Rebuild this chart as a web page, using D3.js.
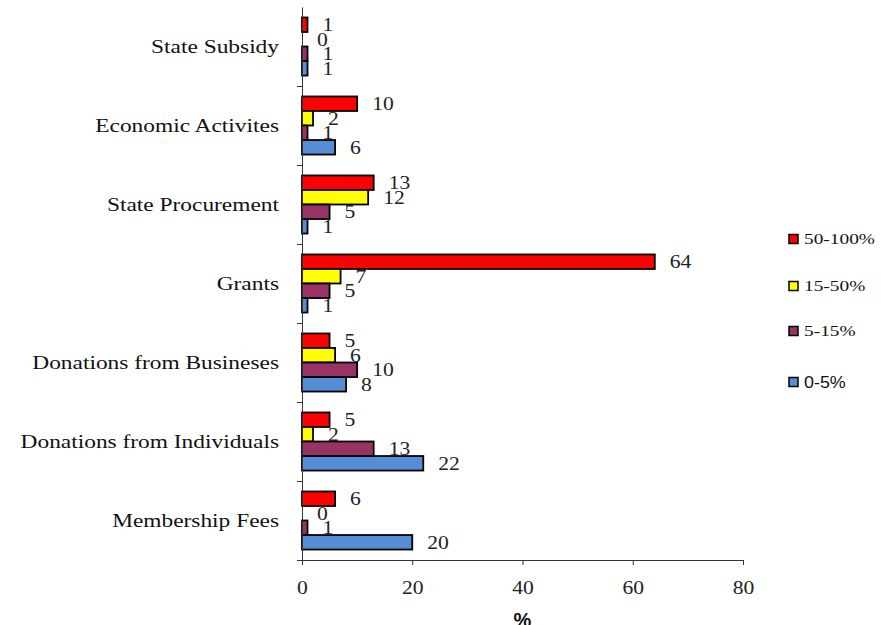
<!DOCTYPE html>
<html>
<head>
<meta charset="utf-8">
<script src="https://cdn.jsdelivr.net/npm/d3@7"></script>
<style>
  html, body { margin: 0; padding: 0; background: #ffffff; }
  svg { display: block; }
</style>
</head>
<body>
<svg id="chart" width="881" height="625"></svg>
<script>
// Funding sources, top to bottom
const categories = [
  "State Subsidy",
  "Economic Activites",
  "State Procurement",
  "Grants",
  "Donations from Busineses",
  "Donations from Individuals",
  "Membership Fees"
];

// Share-of-budget bands, drawn top to bottom inside each group
const seriesNames = ["50-100%", "15-50%", "5-15%", "0-5%"];
const seriesColors = ["#ff0000", "#ffff00", "#993366", "#558ed5"];

// Percent of organisations per band, one array per band (same order as categories)
const values50to100 = [1, 10, 13, 64, 5, 5, 6];
const values15to50 = [0, 2, 12, 7, 6, 2, 0];
const values5to15 = [1, 1, 5, 5, 10, 13, 1];
const values0to5 = [1, 6, 1, 1, 8, 22, 20];

const xTicks = [0, 20, 40, 60, 80];

const seriesValues = [values50to100, values15to50, values5to15, values0to5];

const svg = d3.select("#chart");

const plot = { left: 302, right: 743, top: 7, bottom: 560 };

// Text in this chart is set slightly wide
const STRETCH = 1.2;
const serif = "'Liberation Serif', 'Times New Roman', serif";
const sans = "'Liberation Sans', Arial, sans-serif";

function placeText(sel, xf, yf, sx) {
  sel.attr("x", 0).attr("y", 0)
    .attr("transform", (d, i) => `translate(${xf(d, i)},${yf(d, i)}) scale(${sx},1)`);
}

const x = d3.scaleLinear().domain([0, 80]).range([plot.left, plot.right]);

const y = d3.scaleBand()
  .domain(categories)
  .range([plot.top, plot.bottom])
  .paddingInner(0)
  .paddingOuter(0);

const yInner = d3.scaleBand()
  .domain(seriesNames)
  .range([0, y.bandwidth()])
  .paddingInner(0)
  .paddingOuter(0.72);

// Bars
const rows = [];
categories.forEach((c, ci) => {
  seriesNames.forEach((s, si) => {
    rows.push({ cat: c, series: s, si, value: seriesValues[si][ci] });
  });
});

const g = svg.append("g");

g.selectAll("rect.bar")
  .data(rows.filter(d => d.value > 0))
  .join("rect")
  .attr("class", "bar")
  .attr("x", x(0))
  .attr("y", d => y(d.cat) + yInner(d.series))
  .attr("width", d => x(d.value) - x(0))
  .attr("height", yInner.bandwidth())
  .attr("fill", d => seriesColors[d.si])
  .attr("stroke", "#000")
  .attr("stroke-width", 1.8);

// Value labels
g.selectAll("text.val")
  .data(rows)
  .join("text")
  .attr("class", "val")
  .attr("dy", "0.35em")
  .attr("font-family", serif)
  .attr("font-size", 18)
  .attr("fill", "#222")
  .text(d => d.value)
  .call(placeText,
    d => x(d.value) + 15,
    d => y(d.cat) + yInner(d.series) + yInner.bandwidth() / 2,
    STRETCH);

// X axis
const xAxis = d3.axisBottom(x).tickValues(xTicks).tickSize(5).tickSizeOuter(0).tickFormat(d3.format("d"));
const xg = svg.append("g")
  .attr("transform", `translate(0,${plot.bottom})`)
  .call(xAxis);
xg.select(".domain").attr("stroke", "#333").attr("d", `M${plot.left - 5},0.5H${plot.right}`);
xg.selectAll(".tick line").attr("stroke", "#333");
xg.selectAll(".tick text")
  .attr("font-family", serif)
  .attr("font-size", 18)
  .attr("fill", "#222")
  .attr("dy", "0.35em")
  .call(placeText, () => 0, () => 28, STRETCH);

// Y axis with ticks on group boundaries
const yAxis = d3.axisLeft(y).tickSize(0).tickPadding(22);
const yg = svg.append("g")
  .attr("transform", `translate(${plot.left},0)`)
  .call(yAxis);
yg.select(".domain").attr("stroke", "#333");
yg.selectAll(".tick text")
  .attr("font-family", serif)
  .attr("font-size", 19.5)
  .attr("fill", "#111")
  .attr("dy", "0.35em")
  .call(placeText, () => -23, () => 0, STRETCH);

svg.append("g")
  .selectAll("line")
  .data(categories.slice(1).concat(["__end"]))
  .join("line")
  .attr("x1", plot.left - 5)
  .attr("x2", plot.left)
  .attr("y1", (d, i) => Math.round(plot.top + y.step() * (i + 1)) + 0.5)
  .attr("y2", (d, i) => Math.round(plot.top + y.step() * (i + 1)) + 0.5)
  .attr("stroke", "#333");

// X axis title
svg.append("text")
  .attr("x", (plot.left + plot.right) / 2)
  .attr("y", 627)
  .attr("text-anchor", "middle")
  .attr("font-family", sans)
  .attr("font-weight", "bold")
  .attr("font-size", 20)
  .attr("fill", "#111")
  .text("%");

// Legend
const legendY = [239, 286, 331, 382];
const lg = svg.append("g");
seriesNames.forEach((s, i) => {
  lg.append("rect")
    .attr("x", 789)
    .attr("y", legendY[i] - 4.5)
    .attr("width", 9)
    .attr("height", 9)
    .attr("fill", seriesColors[i])
    .attr("stroke", "#000")
    .attr("stroke-width", 1.5);
  lg.append("text")
    .datum(s)
    .attr("dy", "0.35em")
    .attr("font-family", i === 3 ? sans : serif)
    .attr("font-size", i === 3 ? 16 : 15.5)
    .attr("font-weight", i === 3 ? 500 : null)
    .attr("fill", "#111")
    .text(s)
    .call(placeText, () => 804, () => legendY[i], i === 3 ? 1.12 : 1.25);
});
</script>
</body>
</html>
